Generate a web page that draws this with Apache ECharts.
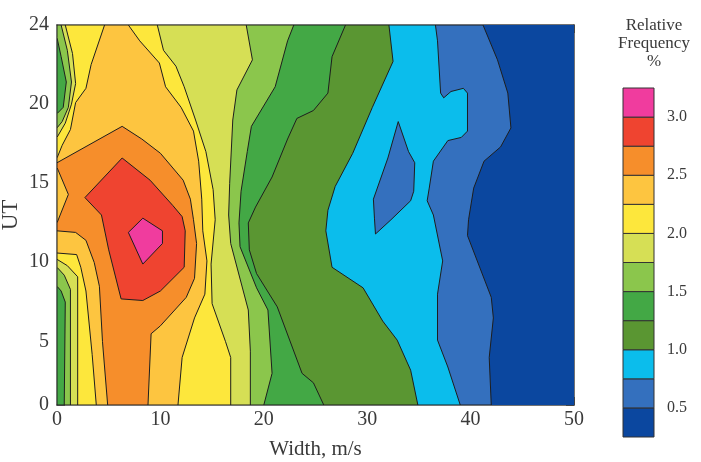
<!DOCTYPE html>
<html>
<head>
<meta charset="utf-8">
<script src="https://cdn.jsdelivr.net/npm/echarts@6/dist/echarts.min.js"></script>
<style>
  html, body { margin: 0; padding: 0; background: #fff; }
  #chart { width: 701px; height: 462px; }
</style>
</head>
<body>
<div id="chart"></div>
<script>
// contour levels (relative frequency, %) and the fill colour of each band
const levels = [0.5, 0.75, 1.0, 1.25, 1.5, 1.75, 2.0, 2.25, 2.5, 2.75, 3.0];
const bandColors = ['#0b479f', '#3470be', '#0bbdec', '#5a9632', '#43a845', '#8bc64c',
                    '#d6df55', '#fde73c', '#fdc540', '#f68e2b', '#ef4430', '#f03c9e'];
const legendLow = [0.25, 0.5, 0.75, 1.0, 1.25, 1.5, 1.75, 2.0, 2.25, 2.5, 2.75, 3.0];

// region where frequency >= level, as [width m/s, UT] outlines
const ge050 = [[0,0],[0,24],[41.2,24],[42.6,21.8],[43.6,19.7],[43.9,17.5],[42.9,16.3],[41.3,15.4],[40.3,13.7],[39.8,11.7],[39.7,10.7],[42.0,6.8],[42.2,5.5],[41.8,3.0],[42.0,0]];
const ge075 = [[0,0],[0,24],[36.6,24],[36.8,23.0],[37.1,19.7],[37.4,19.4],[38.1,19.8],[39.3,20.0],[39.7,19.7],[39.7,17.3],[39.1,16.9],[37.8,16.7],[36.4,15.4],[36.0,13.7],[35.8,12.9],[36.4,12.0],[37.3,9.1],[36.8,7.0],[36.8,4.1],[37.8,2.4],[39.0,0]];
const hole075 = [[33.0,17.9],[34.0,16.0],[34.6,15.3],[34.5,13.5],[34.2,12.9],[32.3,11.7],[30.8,10.8],[30.7,11.8],[30.6,13.0],[32.0,15.6]];
const ge100 = [[0,0],[0,24],[32.1,24],[32.5,21.7],[30.5,18.8],[28.6,15.9],[26.9,13.8],[26.2,12.3],[26.0,11.0],[26.6,8.7],[29.6,7.4],[31.5,5.3],[32.9,4.1],[34.2,2.2],[34.9,0]];
const ge125 = [[0,0],[0,24],[27.9,24],[26.6,22.0],[26.2,19.7],[24.8,18.6],[23.2,18.1],[22.3,16.8],[20.8,14.4],[19.2,12.5],[18.5,11.5],[18.6,9.8],[19.3,8.3],[21.3,6.2],[23.7,2.0],[24.8,1.4],[25.8,0]];
const ge150 = [[0.7,0],[0.8,6.5],[0.4,7.2],[0,7.5],[0,18.4],[0.6,18.8],[0.9,20.4],[0.4,22.0],[0,23.2],[0,24],[22.9,24],[22.3,23.0],[21.1,20.1],[18.8,17.6],[18.4,16.0],[17.8,13.5],[17.6,11.5],[17.7,10.0],[19.3,7.4],[20.4,6.0],[20.8,2.0],[20.0,0]];
const ge175 = [[1.3,0],[1.3,7.3],[0.7,8.2],[0,8.7],[0,17.5],[0.5,17.9],[1.1,18.8],[1.4,20.4],[1.0,22.4],[0.4,24],[18.3,24],[18.9,21.8],[17.4,19.9],[17.0,18.0],[16.7,14.0],[16.6,12.0],[16.8,10.2],[18.5,6.0],[18.7,3.4],[18.7,0]];
const ge200 = [[2.0,0],[2.0,8.1],[1.0,8.8],[0,9.2],[0,16.9],[0.8,17.8],[1.4,19.0],[1.8,20.3],[1.5,22.2],[0.8,24],[9.7,24],[10.3,22.4],[11.5,21.4],[12.3,20.1],[13.4,18.0],[14.4,16.0],[15.1,13.6],[15.3,11.7],[14.9,8.9],[15.0,6.4],[16.3,4.0],[16.8,3.0],[16.8,0]];
const ge225 = [[3.8,0],[3.4,3.2],[2.8,7.2],[2.3,8.7],[1.9,9.5],[0,9.6],[0,15.6],[0.5,16.4],[1.3,17.4],[1.8,19.1],[2.8,20.0],[3.3,21.5],[4.6,24],[6.9,24],[8.0,23.0],[9.9,21.6],[10.5,20.1],[12.0,18.8],[13.2,17.3],[13.7,15.4],[14.0,13.0],[14.1,11.0],[14.5,9.1],[14.3,7.0],[13.3,5.5],[12.1,3.0],[11.7,0]];
const ge250 = [[4.9,0],[4.4,4.0],[4.1,7.5],[3.6,9.0],[2.8,10.4],[1.8,10.9],[0,11.0],[0,11.5],[1.1,13.3],[0,15.0],[0,15.3],[6.3,17.6],[8.2,16.8],[10.0,15.9],[12.2,14.2],[12.9,13.0],[13.2,11.7],[13.5,10.2],[13.3,8.0],[12.5,6.8],[10.0,5.0],[9.1,4.5],[8.8,0]];
const ge275 = [[6.3,15.6],[9.0,14.2],[11.2,12.6],[12.1,11.9],[12.4,11.0],[12.3,8.7],[10.0,7.2],[8.3,6.6],[6.2,6.7],[5.0,9.8],[4.3,12.0],[2.7,13.1]];
const ge300 = [[8.3,11.8],[10.2,11.0],[10.2,10.2],[8.3,8.9],[6.9,10.9]];
const fullArea = [[0,0],[0,24],[50,24],[50,0]];

const font = 'Liberation Serif, Times New Roman, serif';
const ink = '#3a3a3a';

// painter's order: lowest band first, each higher region drawn on top
const shapes = [
  {pts: fullArea, color: bandColors[0], line: false},
  {pts: ge050, color: bandColors[1], line: true},
  {pts: ge075, color: bandColors[2], line: true},
  {pts: hole075, color: bandColors[1], line: true},
  {pts: ge100, color: bandColors[3], line: true},
  {pts: ge125, color: bandColors[4], line: true},
  {pts: ge150, color: bandColors[5], line: true},
  {pts: ge175, color: bandColors[6], line: true},
  {pts: ge200, color: bandColors[7], line: true},
  {pts: ge225, color: bandColors[8], line: true},
  {pts: ge250, color: bandColors[9], line: true},
  {pts: ge275, color: bandColors[10], line: true},
  {pts: ge300, color: bandColors[11], line: true}
];

const chart = echarts.init(document.getElementById('chart'));

const frameAxis = {
  min: 0,
  axisLine: {show: true, onZero: false, lineStyle: {color: '#444', width: 1.5}},
  axisTick: {show: true, inside: true, length: 8, lineStyle: {color: '#444'}},
  splitLine: {show: false}
};

const option = {
  animation: false,
  grid: [
    {left: 57, top: 25, width: 517, height: 380, outerBoundsMode: 'none', containLabel: false},
    {left: 623, top: 88, width: 31, height: 349, outerBoundsMode: 'none', containLabel: false}
  ],
  title: {
    text: 'Relative\nFrequency\n%',
    left: 649, top: 12, textAlign: 'center',
    textStyle: {fontFamily: font, fontSize: 17, fontWeight: 'normal', color: ink, lineHeight: 18}
  },
  xAxis: [
    Object.assign({}, frameAxis, {
      type: 'value', gridIndex: 0, position: 'bottom', max: 50, interval: 10,
      minorTick: {show: true, splitNumber: 10, length: 4, lineStyle: {color: '#444'}},
      axisLabel: {fontFamily: font, fontSize: 20, color: ink, margin: 5},
      name: 'Width, m/s', nameLocation: 'middle', nameGap: 34, nameMoveOverlap: false,
      nameTextStyle: {fontFamily: font, fontSize: 21, color: ink}
    }),
    Object.assign({}, frameAxis, {
      type: 'value', gridIndex: 0, position: 'top', max: 50, interval: 10,
      minorTick: {show: true, splitNumber: 10, length: 4, lineStyle: {color: '#444'}},
      axisLabel: {show: false}
    }),
    {type: 'value', gridIndex: 1, min: 0, max: 1, show: false}
  ],
  yAxis: [
    Object.assign({}, frameAxis, {
      type: 'value', gridIndex: 0, position: 'left', max: 24, interval: 5,
      minorTick: {show: true, splitNumber: 5, length: 4, lineStyle: {color: '#444'}},
      axisLabel: {
        fontFamily: font, fontSize: 20, color: ink, margin: 8, lineHeight: 31,
        // labels in the source sit a little below their ticks, except the ends
        formatter: v => (v === 0 || v === 24) ? String(v) : '\n' + v
      },
      name: 'UT', nameLocation: 'middle', nameGap: 35, nameMoveOverlap: false,
      nameTextStyle: {fontFamily: font, fontSize: 23, color: ink}
    }),
    Object.assign({}, frameAxis, {
      type: 'value', gridIndex: 0, position: 'right', max: 24, interval: 5,
      minorTick: {show: true, splitNumber: 5, length: 4, lineStyle: {color: '#444'}},
      axisLabel: {show: false}
    }),
    {
      type: 'value', gridIndex: 1, position: 'right', min: 0.25, max: 3.25, interval: 0.25,
      axisLine: {show: false}, axisTick: {show: false}, splitLine: {show: false},
      axisLabel: {
        fontFamily: font, fontSize: 16, color: ink, margin: 13,
        formatter: v => {
          const twice = Math.round(v * 2);
          return (Math.abs(v * 2 - twice) < 1e-6 && v >= 0.5 && v <= 3.0) ? v.toFixed(1) : '';
        }
      }
    }
  ],
  series: [
    {
      type: 'custom',
      xAxisIndex: 0, yAxisIndex: 0,
      clip: true, silent: true,
      data: shapes.map(s => s.pts[0]),
      renderItem: (params, api) => {
        const s = shapes[params.dataIndex];
        return {
          type: 'polygon',
          shape: {points: s.pts.map(p => api.coord(p))},
          style: {fill: s.color, stroke: s.line ? '#1e1e1e' : null, lineWidth: s.line ? 1 : 0}
        };
      }
    },
    {
      type: 'custom',
      xAxisIndex: 2, yAxisIndex: 2,
      silent: true,
      data: legendLow.map(lo => [0, lo]),
      renderItem: (params, api) => {
        const lo = legendLow[params.dataIndex];
        const a = api.coord([0, lo + 0.25]);
        const b = api.coord([1, lo]);
        return {
          type: 'rect',
          shape: {x: a[0], y: a[1], width: b[0] - a[0], height: b[1] - a[1]},
          style: {fill: bandColors[params.dataIndex], stroke: '#333', lineWidth: 1}
        };
      }
    }
  ]
};

chart.setOption(option);
</script>
</body>
</html>
